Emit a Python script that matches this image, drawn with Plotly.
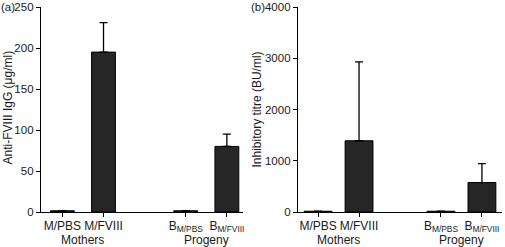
import plotly.graph_objects as go

categories = ["M/PBS", "M/FVIII", "B<sub>M/PBS</sub>", "B<sub>M/FVIII</sub>"]
positions = [0, 1, 3, 4]
igg_values = [1.5, 195, 1.5, 80]
igg_errors = [0, 36, 0, 15]
titre_values = [15, 1390, 15, 575]
titre_errors = [0, 1540, 0, 370]
groups = ["Mothers", "Progeny"]
group_pos = [0.5, 3.5]

FONT = "Liberation Sans, Arial, Helvetica, sans-serif"
TXT = "#1a1a1a"
BAR = "#262626"

fig = go.Figure()
fig.add_trace(go.Bar(
    x=positions, y=igg_values, width=0.58, marker=dict(color=BAR, line=dict(color="black", width=1)),
    error_y=dict(type="data", symmetric=False, array=igg_errors, arrayminus=[0]*4,
                 color="black", thickness=1.3, width=4),
    xaxis="x", yaxis="y", showlegend=False, hoverinfo="skip"))
fig.add_trace(go.Bar(
    x=positions, y=titre_values, width=0.68, marker=dict(color=BAR, line=dict(color="black", width=1)),
    error_y=dict(type="data", symmetric=False, array=titre_errors, arrayminus=[0]*4,
                 color="black", thickness=1.3, width=4),
    xaxis="x2", yaxis="y2", showlegend=False, hoverinfo="skip"))

common_x = dict(tickmode="array", tickvals=positions, ticktext=categories, ticks="outside",
                ticklen=4, tickwidth=1.2, tickcolor="black", showline=True, linecolor="black",
                linewidth=1.3, showgrid=False, zeroline=False, automargin=False,
                ticklabelstandoff=-2,
                tickfont=dict(family=FONT, size=12, color=TXT))
common_y = dict(ticks="outside", ticklen=4, tickwidth=1.2, tickcolor="black", showline=True,
                linecolor="black", linewidth=1.3, showgrid=False, zeroline=False, automargin=False,
                tickfont=dict(family=FONT, size=11.5, color=TXT))

fig.update_layout(
    width=505, height=247, margin=dict(l=41, r=3, t=7, b=35, autoexpand=False),
    paper_bgcolor="white", plot_bgcolor="white",
    xaxis=dict(domain=[0, 0.438], range=[-0.52, 4.39], anchor="y", **common_x),
    yaxis=dict(range=[0, 250], tickvals=[0, 50, 100, 150, 200, 250], anchor="x", **common_y),
    xaxis2=dict(domain=[0.5575, 1], range=[-0.49, 4.49], anchor="y2", **common_x),
    yaxis2=dict(range=[0, 4000], tickvals=[0, 1000, 2000, 3000, 4000], anchor="x2", **common_y),
)

ann = []
for g, p in zip(groups, group_pos):
    for xr in ("x", "x2"):
        ann.append(dict(x=p, xref=xr, y=-0.137, yref="paper", text=g, showarrow=False,
                        xanchor="center", yanchor="middle", font=dict(family=FONT, size=12, color=TXT)))
ann.append(dict(x=-0.089, xref="paper", y=1.0, yref="paper", text="(a)", showarrow=False,
                xanchor="left", yanchor="middle", borderpad=0,
                font=dict(family=FONT, size=11.5, color=TXT)))
ann.append(dict(x=0.4534, xref="paper", y=1.0, yref="paper", text="(b)", showarrow=False,
                xanchor="left", yanchor="middle", borderpad=0,
                font=dict(family=FONT, size=11.5, color=TXT)))
ann.append(dict(x=-0.0716, xref="paper", y=0.51, yref="paper", text="Anti-FVIII IgG (μg/ml)",
                textangle=-90, showarrow=False, xanchor="center", yanchor="middle",
                font=dict(family=FONT, size=12, color=TXT)))
ann.append(dict(x=0.4685, xref="paper", y=0.5, yref="paper", text="Inhibitory titre (BU/ml)",
                textangle=-90, showarrow=False, xanchor="center", yanchor="middle",
                font=dict(family=FONT, size=12, color=TXT)))
fig.update_layout(annotations=ann)

fig.write_html("out.html", config={"displayModeBar": False},
               post_script="document.body.style.margin='0';document.body.style.overflow='hidden';")
